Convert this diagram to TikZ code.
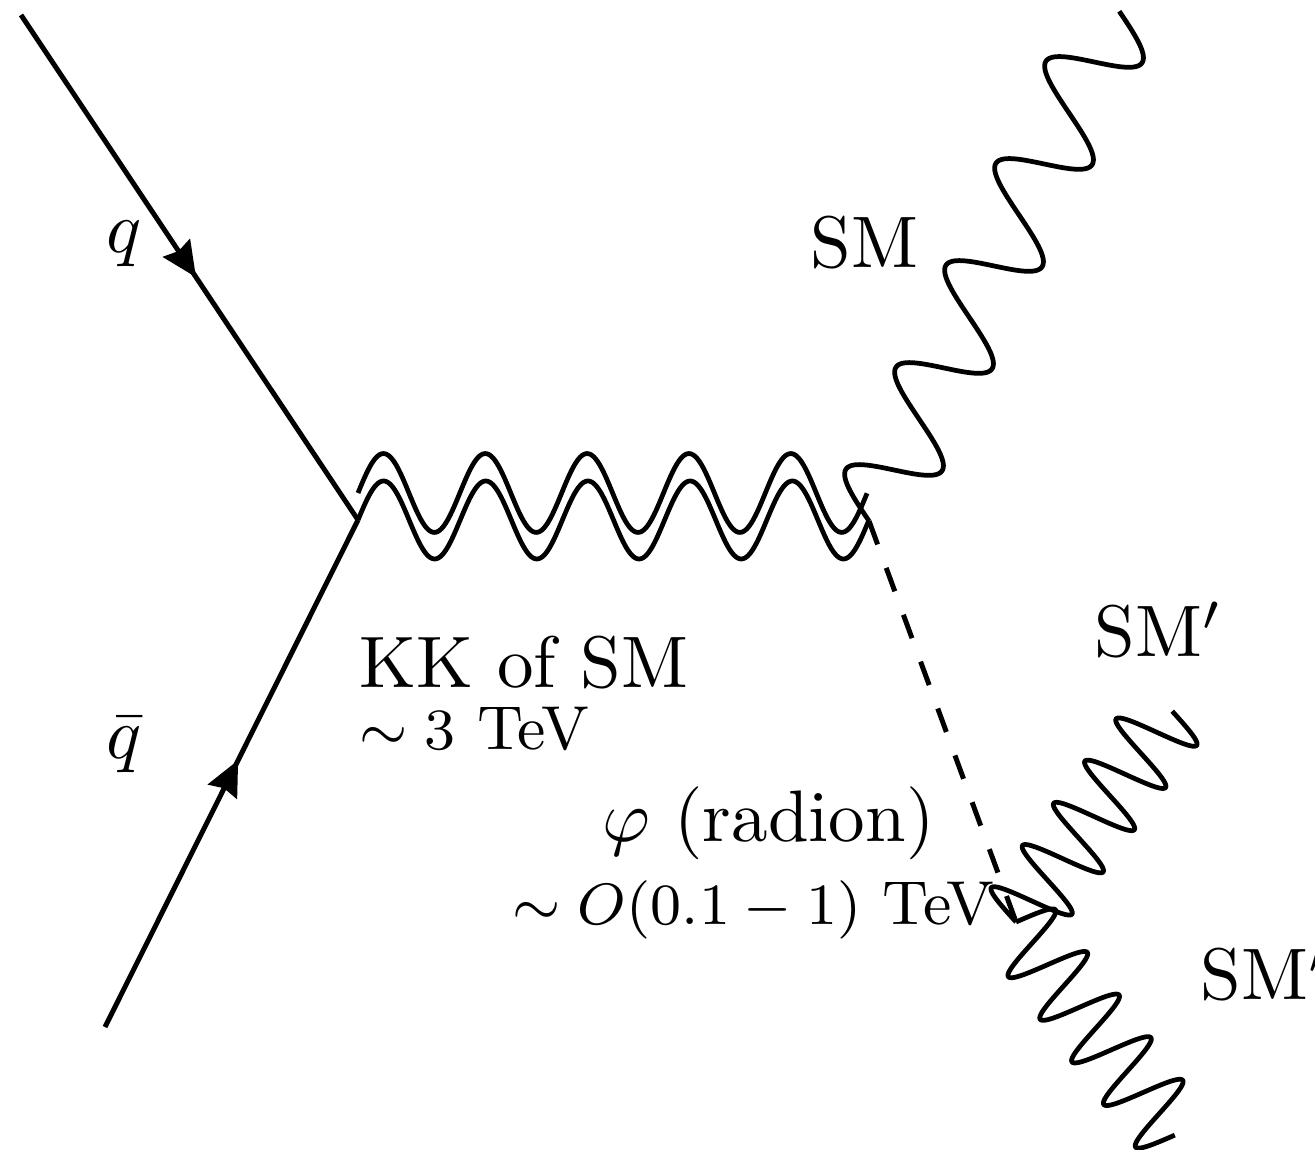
\documentclass[tikz,border=0pt]{standalone}
\usetikzlibrary{decorations.markings,arrows.meta}
\begin{document}
\begin{tikzpicture}[x=0.137pt,y=-0.137pt,
  line width=0.68pt, line join=round,
  fermion/.style={postaction={decorate},decoration={markings, mark=at position #1 with {\arrow{Stealth[length=4.8pt,width=4.4pt,inset=0.5pt]}}}},
  scalar/.style={dash pattern=on 3.42pt off 3.42pt},
  wave/.style={line width=0.65pt},
  lab/.style={anchor=base west, inner sep=0pt},
  small/.style={font=\fontsize{8.5}{10}\selectfont}
]
\useasboundingbox (0,0) rectangle (1315,1150);
\coordinate (qin) at (21,15);
\coordinate (qbin) at (105,1027);
\coordinate (v1) at (358,520);
\coordinate (v1u) at (358,493);
\coordinate (v2) at (869,521);
\coordinate (v3) at (1016,922);

% quark lines
\draw[fermion=0.52] (qin) -- (v1);
\draw[fermion=0.527] (qbin) -- (v1);

% KK double wavy line
\draw[wave, shift={(v1)}, x={(14pt,0pt)}, y={(0pt,5.34pt)}] plot[domain=0:5, samples=361] (\x,{sin(\x*360)});
\draw[wave, shift={(v1u)}, x={(13.95pt,0pt)}, y={(0pt,5.4pt)}] plot[domain=0:5, samples=361] (\x,{sin(\x*360)});

% SM wave
\draw[wave, shift={(v2)}, x={(6.85pt,13.974pt)}, y={(-4.932pt,3.4935pt)}] plot[domain=0:5, samples=361] (\x,{sin(\x*360)});

% radion
\draw[scalar] (v2) -- (v3);

% SM' waves
\draw[wave, shift={(v3)}, x={(4.274pt,5.781pt)}, y={(-4.4525pt,3.254pt)}] plot[domain=0:5, samples=451] (\x,{sin(\x*360)});
\draw[wave, shift={(v3)}, x={(4.357pt,-5.836pt)}, y={(4.3155pt,3.117pt)}] plot[domain=0:5, samples=451] (\x,{sin(\x*360)});

% labels
\node[lab] (lq) at (104,253) {$q$};
\node[lab] (lqb) at (104,759) {$\bar q$};
\node[lab] (lsm) at (808,268) {SM};
\node[lab] (lsmpa) at (1092,657) {SM$'$};
\node[lab] (lsmpb) at (1198,1000) {SM$'$};
\node[lab] (lkk) at (357,688) {KK of SM};
\node[lab, small] (lkkm) at (357,750) {$\sim 3$ TeV};
\node[lab] (lphi) at (600,842) {$\varphi$ (radion)};
\node[lab, small] (lphim) at (510,925) {$\sim O(0.1-1)$ TeV};
\end{tikzpicture}
\end{document}
